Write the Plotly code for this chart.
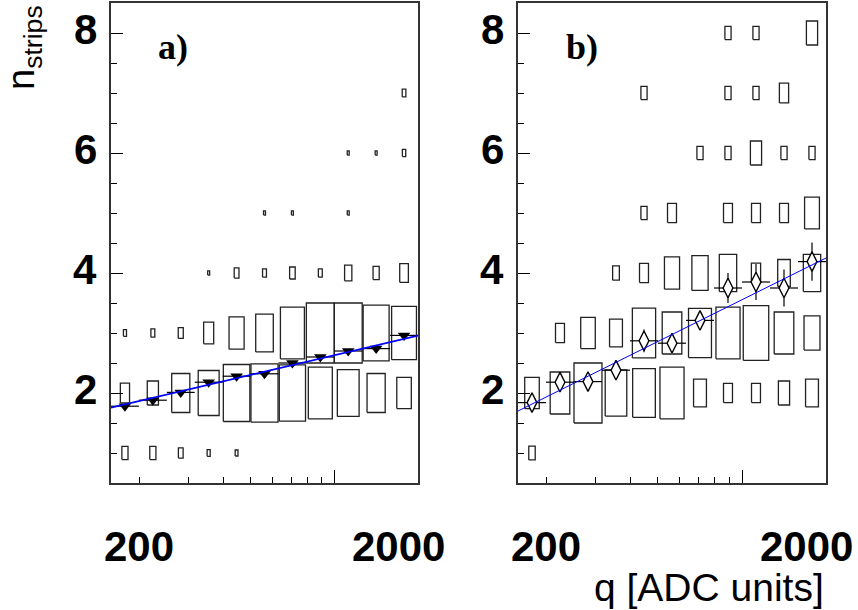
import math
import plotly.graph_objects as go

# ---------------- data ----------------
# charge bins (ADC units), 0.1 decade wide
q_edges = [158.5, 199.5, 251.2, 316.2, 398.1, 501.2, 631.0, 794.3, 1000.0, 1258.9, 1584.9, 1995.3]
n_strips = [1, 2, 3, 4, 5, 6, 7, 8]

# panel a) relative cell content (box scale, 1 = full cell), one list per n_strips row
a_n1 = [0.22, 0.22, 0.17, 0.11, 0.10, 0, 0, 0, 0, 0, 0]
a_n2 = [0.33, 0.40, 0.65, 0.75, 0.95, 0.97, 0.94, 0.86, 0.78, 0.65, 0.52]
a_n3 = [0.11, 0.14, 0.18, 0.36, 0.54, 0.63, 0.86, 1.00, 1.00, 0.93, 0.89]
a_n4 = [0, 0, 0, 0.07, 0.17, 0.14, 0.20, 0.14, 0.26, 0.22, 0.31]
a_n5 = [0, 0, 0, 0, 0, 0.07, 0.07, 0, 0.07, 0, 0]
a_n6 = [0, 0, 0, 0, 0, 0, 0, 0, 0.07, 0.07, 0.12]
a_n7 = [0, 0, 0, 0, 0, 0, 0, 0, 0, 0, 0.13]
a_n8 = [0, 0, 0, 0, 0, 0, 0, 0, 0, 0, 0]

# panel b)
b_n1 = [0.23, 0, 0, 0, 0, 0, 0, 0, 0, 0, 0]
b_n2 = [0.52, 0.70, 1.00, 0.77, 0.81, 0.86, 0.46, 0.32, 0.32, 0.40, 0.46]
b_n3 = [0, 0.32, 0.52, 0.46, 0.83, 0.70, 0.82, 0.86, 0.91, 0.70, 0.57]
b_n4 = [0, 0, 0, 0.24, 0.32, 0.54, 0.58, 0.62, 0.33, 0.45, 0.62]
b_n5 = [0, 0, 0, 0, 0.22, 0.32, 0, 0.32, 0.32, 0.32, 0.53]
b_n6 = [0, 0, 0, 0, 0, 0, 0.22, 0.22, 0.40, 0.22, 0.22]
b_n7 = [0, 0, 0, 0, 0.22, 0, 0, 0.22, 0.22, 0.33, 0]
b_n8 = [0, 0, 0, 0, 0, 0, 0, 0.22, 0.22, 0, 0.40]

# mean n_strips per charge bin
a_mean = [1.78, 1.88, 2.01, 2.18, 2.28, 2.32, 2.50, 2.60, 2.70, 2.74, 2.96]
a_mean_err = [0.03, 0.03, 0.03, 0.03, 0.03, 0.03, 0.03, 0.03, 0.03, 0.03, 0.03]
b_mean = [1.84, 2.18, 2.19, 2.38, 2.87, 2.83, 3.21, 3.75, 3.85, 3.75, 4.19]
b_mean_err = [0.14, 0.08, 0.07, 0.13, 0.19, 0.15, 0.15, 0.25, 0.30, 0.31, 0.32]

# fitted lines (end points)
a_fit_q = [158.5, 1995.3]
a_fit_n = [1.756, 2.956]
b_fit_q = [158.5, 1995.3]
b_fit_n = [1.70, 4.25]

# axis ticks / labels
x_tick_vals = [200, 2000]
x_tick_labels = ["200", "2000"]
x_major_ticks = [1000]
x_minor_ticks = [200, 300, 400, 500, 600, 700, 800, 900]
y_tick_vals = [2, 4, 6, 8]
y_tick_labels = ["2", "4", "6", "8"]
panel_labels = ["a)", "b)"]
x_title = "q [ADC units]"
y_title = "n<sub>strips</sub>"

# ---------------- helpers ----------------
SANS = "Liberation Sans, Arial, sans-serif"
SERIF = "Liberation Serif, Times New Roman, serif"
W, H = 858, 610


def bin_geom(i):
    l0, l1 = math.log10(q_edges[i]), math.log10(q_edges[i + 1])
    return l0, l1


def box_path(rows):
    xs, ys = [], []
    for n, row in zip(n_strips, rows):
        for i, f in enumerate(row):
            if f <= 0:
                continue
            l0, l1 = bin_geom(i)
            lc = (l0 + l1) / 2
            hw = f * (l1 - l0) / 2
            xa, xb = 10 ** (lc - hw), 10 ** (lc + hw)
            ya, yb = n - f / 2, n + f / 2
            xs += [xa, xb, xb, xa, xa, None]
            ys += [ya, ya, yb, yb, ya, None]
    return xs, ys


centers = []
err_p, err_m = [], []
for i in range(len(q_edges) - 1):
    l0, l1 = bin_geom(i)
    c = 10 ** ((l0 + l1) / 2)
    centers.append(c)
    err_p.append(q_edges[i + 1] - c)
    err_m.append(c - q_edges[i])

fig = go.Figure()

panels = [
    dict(rows=[a_n1, a_n2, a_n3, a_n4, a_n5, a_n6, a_n7, a_n8], mean=a_mean, err=a_mean_err,
         fq=a_fit_q, fn=a_fit_n, xa="x", ya="y", sym="triangle-down", msize=11,
         mcolor="black", mline=0, fitw=1.6),
    dict(rows=[b_n1, b_n2, b_n3, b_n4, b_n5, b_n6, b_n7, b_n8], mean=b_mean, err=b_mean_err,
         fq=b_fit_q, fn=b_fit_n, xa="x2", ya="y2", sym="diamond-tall", msize=14,
         mcolor="white", mline=1.4, fitw=1.0),
]

for p in panels:
    bx, by = box_path(p["rows"])
    fig.add_trace(go.Scatter(x=bx, y=by, mode="lines", xaxis=p["xa"], yaxis=p["ya"],
                             line=dict(color="#222222", width=1.3), hoverinfo="skip",
                             showlegend=False))
    fig.add_trace(go.Scatter(x=centers, y=p["mean"], mode="markers", xaxis=p["xa"], yaxis=p["ya"],
                             marker=dict(symbol=p["sym"], size=p["msize"], color=p["mcolor"],
                                         line=dict(color="black", width=p["mline"])),
                             error_x=dict(type="data", symmetric=False, array=err_p,
                                          arrayminus=err_m, color="black", thickness=1.2, width=0),
                             error_y=dict(type="data", array=p["err"], color="black",
                                          thickness=1.2, width=0),
                             showlegend=False))
    fig.add_trace(go.Scatter(x=p["fq"], y=p["fn"], mode="lines", xaxis=p["xa"], yaxis=p["ya"],
                             line=dict(color="#0000ff", width=p["fitw"]), showlegend=False))

xdom_a = [111 / W, 418 / W]
xdom_b = [518 / W, 826 / W]
ydom = [1 - 483 / H, 1 - 3 / H]

xcommon = dict(type="log", range=[math.log10(q_edges[0]), math.log10(q_edges[-1])],
               showline=True, mirror=True, linecolor="#333333", linewidth=1.6,
               ticks="inside", tickvals=x_major_ticks, ticklen=13, tickwidth=1.2,
               tickcolor="black", showticklabels=False, showgrid=False, zeroline=False,
               minor=dict(tickmode="array", tickvals=x_minor_ticks, ticks="inside",
                          ticklen=6, tickwidth=1.2, tickcolor="black", showgrid=False))
ycommon = dict(range=[0.5, 8.5], showline=True, mirror=True, linecolor="#333333", linewidth=1.6,
               ticks="inside", tickvals=y_tick_vals, ticklen=12, tickwidth=1.2,
               tickcolor="black", showticklabels=False, showgrid=False, zeroline=False,
               minor=dict(dtick=0.5, tick0=0, ticks="inside", ticklen=6, tickwidth=1.2,
                          tickcolor="black", showgrid=False))

fig.update_layout(
    width=W, height=H, margin=dict(l=0, r=0, t=0, b=0),
    paper_bgcolor="white", plot_bgcolor="white",
    xaxis=dict(domain=xdom_a, anchor="y", **xcommon),
    yaxis=dict(domain=ydom, anchor="x", **ycommon),
    xaxis2=dict(domain=xdom_b, anchor="y2", **xcommon),
    yaxis2=dict(domain=ydom, anchor="x2", **ycommon),
)

ann = []
for xa, ya in [("x", "y"), ("x2", "y2")]:
    for v, lab in zip(y_tick_vals, y_tick_labels):
        ann.append(dict(text=f"<b>{lab}</b>", xref=f"{xa} domain", x=0, xanchor="right", xshift=-12,
                        yref=ya, y=v, yanchor="middle", yshift=4, showarrow=False,
                        font=dict(family=SANS, size=42, color="black")))
    for v, lab in zip(x_tick_vals, x_tick_labels):
        if v >= q_edges[-1]:
            # last label sits at the right end of the axis, shifted inward (ROOT style)
            ann.append(dict(text=f"<b>{lab}</b>", xref=f"{xa} domain", x=1, xanchor="center",
                            xshift=-20, yref=f"{ya} domain", y=0, yanchor="top", yshift=-38,
                            showarrow=False, font=dict(family=SANS, size=42, color="black")))
        else:
            ann.append(dict(text=f"<b>{lab}</b>", xref=xa, x=math.log10(v), xanchor="center",
                            yref=f"{ya} domain", y=0, yanchor="top", yshift=-38,
                            showarrow=False, font=dict(family=SANS, size=42, color="black")))

ann.append(dict(text=f"<b>{panel_labels[0]}</b>", xref="paper", x=173 / W, yref="paper", y=1 - 47 / H,
                xanchor="center", yanchor="middle", showarrow=False,
                font=dict(family=SERIF, size=36, color="black")))
ann.append(dict(text=f"<b>{panel_labels[1]}</b>", xref="paper", x=582 / W, yref="paper", y=1 - 47 / H,
                xanchor="center", yanchor="middle", showarrow=False,
                font=dict(family=SERIF, size=36, color="black")))
ann.append(dict(text=x_title, xref="paper", x=826 / W, yref="paper", y=0,
                xanchor="right", yanchor="bottom", yshift=-1, showarrow=False,
                font=dict(family=SANS, size=39, color="black")))
ann.append(dict(text=y_title, xref="paper", x=24 / W, yref="paper", y=1 - 48 / H,
                xanchor="center", yanchor="middle", textangle=-90, showarrow=False,
                font=dict(family=SANS, size=38, color="black")))

fig.update_layout(annotations=ann)
fig.write_html("out.html", config={"displayModeBar": False},
               post_script="document.body.style.margin='0px';")
